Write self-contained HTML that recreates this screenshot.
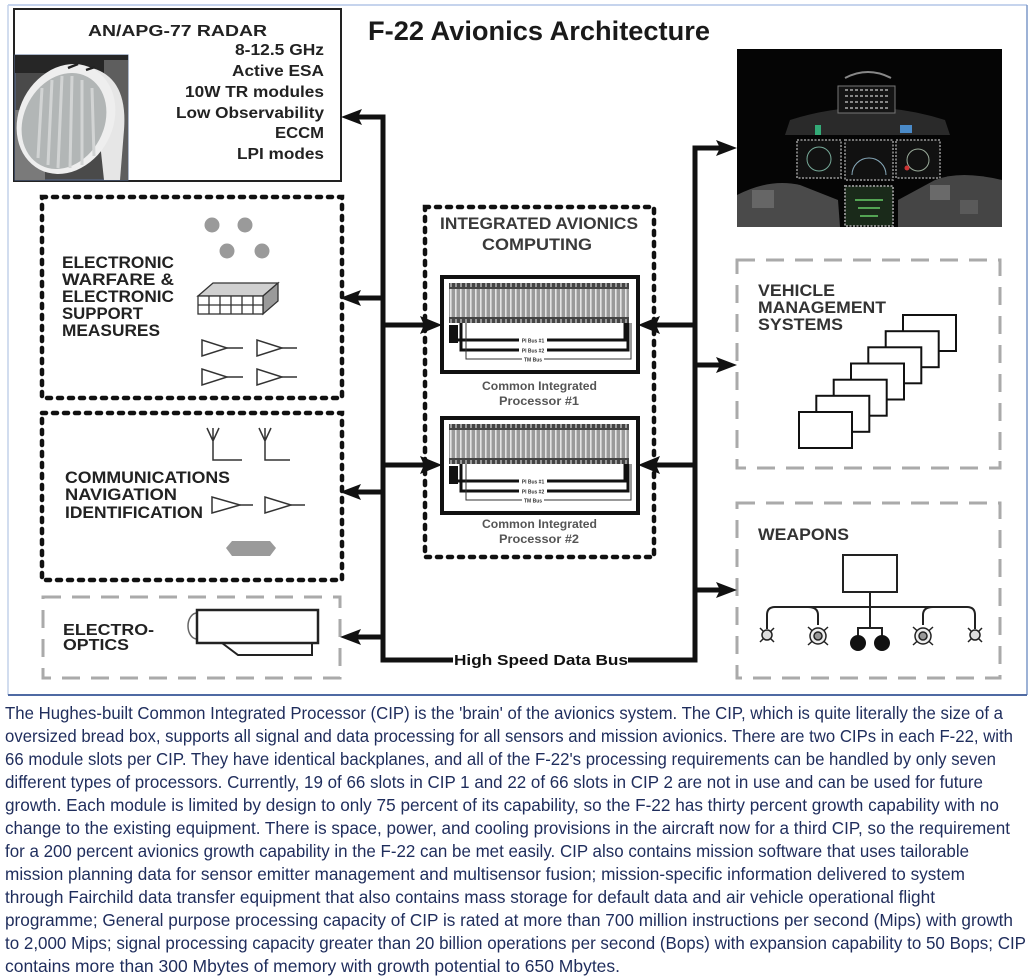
<!DOCTYPE html>
<html><head><meta charset="utf-8"><style>
html,body{margin:0;padding:0;background:#fff;}
svg{display:block;}
.lb{font-family:"Liberation Sans",Arial,sans-serif;font-weight:bold;}
.p{font-family:"Liberation Sans",Arial,sans-serif;font-size:17.5px;fill:#1f2d5c;}
</style></head><body>
<svg width="1033" height="977" viewBox="0 0 1033 977" xmlns="http://www.w3.org/2000/svg">
<defs>
<pattern id="slots" x="449" y="0" width="5" height="10" patternUnits="userSpaceOnUse">
<rect width="5" height="10" fill="#9a9a9a"/><rect x="1" width="1.6" height="10" fill="#e4e4e4"/>
</pattern>
<pattern id="slotsTop" x="449" y="0" width="5" height="6" patternUnits="userSpaceOnUse">
<rect width="5" height="6" fill="#444"/><rect x="1" y="1" width="2" height="4" fill="#999"/>
</pattern>
<g id="cip">
<rect x="442" y="277" width="196" height="95" fill="#fff" stroke="#111" stroke-width="4"/>
<rect x="449" y="283" width="180" height="40" fill="url(#slots)"/>
<rect x="449" y="283" width="180" height="6" fill="url(#slotsTop)"/>
<rect x="449" y="317" width="180" height="6" fill="url(#slotsTop)"/>
<rect x="449" y="325" width="9" height="18" fill="#111"/>
<path d="M456,340 H625 V323" fill="none" stroke="#111" stroke-width="3"/>
<path d="M461,323 V350 H628 V323" fill="none" stroke="#111" stroke-width="3"/>
<path d="M466,323 V359 H631 V323" fill="none" stroke="#333" stroke-width="1"/>
<rect x="519" y="337" width="28" height="6" fill="#fff"/>
<rect x="519" y="347" width="28" height="6" fill="#fff"/>
<rect x="522" y="356" width="22" height="6" fill="#fff"/>
<text x="533" y="342.5" class="lb" font-size="5" text-anchor="middle" fill="#333">PI Bus #1</text>
<text x="533" y="352.5" class="lb" font-size="5" text-anchor="middle" fill="#333">PI Bus #2</text>
<text x="533" y="361.5" class="lb" font-size="5" text-anchor="middle" fill="#333">TM Bus</text>
</g>
</defs>

<!-- outer frame -->
<line x1="8" y1="5" x2="1027" y2="5" stroke="#b4c6e7" stroke-width="1.5"/>
<line x1="8" y1="5" x2="8" y2="695" stroke="#c4d2ea" stroke-width="1.5"/>
<line x1="1027" y1="5" x2="1027" y2="695" stroke="#7d98c8" stroke-width="1.5"/>
<line x1="8" y1="695" x2="1027" y2="695" stroke="#4f6aa3" stroke-width="2"/>

<!-- radar box -->
<rect x="14" y="9" width="327" height="172" fill="#fff" stroke="#222" stroke-width="2"/>
<g>
<rect x="15" y="55" width="113" height="125" fill="#4a4a4a" stroke="#5a6f95" stroke-width="1"/>
<rect x="15" y="55" width="113" height="18" fill="#262626"/>
<rect x="15" y="110" width="30" height="70" fill="#7a7a7a"/>
<rect x="104" y="60" width="24" height="120" fill="#5e5e5e"/>
<path d="M92,68 Q128,78 124,130 L120,180 L104,180 Z" fill="#e6e6e6"/>
<ellipse cx="66" cy="119" rx="47" ry="57" transform="rotate(28 66 119)" fill="#eeeeee"/>
<ellipse cx="64" cy="121" rx="40" ry="50" transform="rotate(28 64 121)" fill="#b2b6b6"/>
<path d="M42,88 L38,158 M52,80 L48,165 M62,76 L58,168 M72,76 L70,168 M82,80 L82,165 M92,88 L94,156" stroke="#d2d4d4" stroke-width="3"/>
<path d="M68,68 L78,64 M86,70 L95,67" stroke="#222" stroke-width="2.5"/>
</g>
<text x="88" y="36" class="lb" font-size="16" textLength="179" lengthAdjust="spacingAndGlyphs" fill="#222">AN/APG-77 RADAR</text>
<g class="lb" font-size="16" fill="#222" text-anchor="end">
<text x="324" y="55" textLength="89" lengthAdjust="spacingAndGlyphs">8-12.5 GHz</text>
<text x="324" y="76" textLength="92" lengthAdjust="spacingAndGlyphs">Active ESA</text>
<text x="324" y="97" textLength="139" lengthAdjust="spacingAndGlyphs">10W TR modules</text>
<text x="324" y="118" textLength="148" lengthAdjust="spacingAndGlyphs">Low Observability</text>
<text x="324" y="138" textLength="49" lengthAdjust="spacingAndGlyphs">ECCM</text>
<text x="324" y="159" textLength="87" lengthAdjust="spacingAndGlyphs">LPI modes</text>
</g>

<!-- title -->
<text x="368" y="40" class="lb" font-size="27" textLength="342" lengthAdjust="spacingAndGlyphs" fill="#1a1a1a">F-22 Avionics Architecture</text>

<!-- cockpit photo -->
<g>
<rect x="737" y="49" width="265" height="178" fill="#050505"/>
<path d="M845,78 Q868,66 891,78" fill="none" stroke="#888" stroke-width="2"/>
<path d="M790,120 Q868,95 945,120 L950,135 L785,135 Z" fill="#2a2a2a"/>
<rect x="838" y="86" width="57" height="27" fill="#151515" stroke="#777" stroke-width="1"/>
<path d="M845,90 H890 M845,96 H890 M845,102 H890 M845,108 H890" stroke="#ccc" stroke-width="1.3" stroke-dasharray="3 2"/>
<rect x="797" y="140" width="44" height="38" fill="#111" stroke="#777" stroke-width="2" stroke-dasharray="2 1.5"/>
<circle cx="819" cy="159" r="12" fill="none" stroke="#7a9" stroke-width="1"/>
<rect x="845" y="140" width="48" height="40" fill="#111" stroke="#777" stroke-width="2" stroke-dasharray="2 1.5"/>
<path d="M852,175 A17,17 0 0 1 886,175" fill="none" stroke="#8ab" stroke-width="1"/>
<rect x="896" y="140" width="44" height="38" fill="#111" stroke="#777" stroke-width="2" stroke-dasharray="2 1.5"/>
<circle cx="918" cy="160" r="11" fill="none" stroke="#9a9" stroke-width="1"/>
<circle cx="907" cy="168" r="2.5" fill="#c33"/>
<rect x="900" y="125" width="12" height="8" fill="#4a8ac8"/>
<rect x="815" y="125" width="6" height="10" fill="#3a7"/>
<rect x="845" y="186" width="48" height="40" fill="#1a2a1a" stroke="#888" stroke-width="2" stroke-dasharray="2 1.5"/>
<path d="M855,200 H883 M858,208 H880 M860,216 H878" stroke="#6c6" stroke-width="1.5"/>
<path d="M737,227 L737,195 Q770,178 800,185 L838,200 L840,227 Z" fill="#4a4a4a"/>
<rect x="752" y="190" width="22" height="18" fill="#666"/>
<path d="M1002,227 L1002,180 Q960,170 935,180 L898,200 L898,227 Z" fill="#454545"/>
<rect x="930" y="185" width="20" height="15" fill="#6a6a6a"/>
<rect x="960" y="200" width="18" height="14" fill="#5a5a5a"/>
</g>

<!-- EW box -->
<rect x="42" y="197" width="300" height="201" fill="none" stroke="#111" stroke-width="4.5" stroke-dasharray="4 7" stroke-linecap="round"/>
<g class="lb" font-size="17" fill="#222">
<text x="62" y="268" textLength="112" lengthAdjust="spacingAndGlyphs">ELECTRONIC</text>
<text x="62" y="285" textLength="112" lengthAdjust="spacingAndGlyphs">WARFARE &amp;</text>
<text x="62" y="302" textLength="112" lengthAdjust="spacingAndGlyphs">ELECTRONIC</text>
<text x="62" y="319" textLength="81" lengthAdjust="spacingAndGlyphs">SUPPORT</text>
<text x="62" y="336" textLength="98" lengthAdjust="spacingAndGlyphs">MEASURES</text>
</g>
<g fill="#9a9a9a">
<circle cx="212" cy="225" r="7.5"/><circle cx="245" cy="225" r="7.5"/>
<circle cx="227" cy="251" r="7.5"/><circle cx="262" cy="251" r="7.5"/>
</g>
<g stroke="#333" stroke-width="1.3">
<polygon points="198,296 213,283 278,283 263,296" fill="#d0d0d0"/>
<polygon points="263,296 278,283 278,301 263,314" fill="#9a9a9a"/>
<rect x="198" y="296" width="65" height="18" fill="#fff"/>
<path d="M198,305 H263 M209,296 V314 M220,296 V314 M231,296 V314 M242,296 V314 M253,296 V314" fill="none"/>
</g>
<g fill="#fff" stroke="#333" stroke-width="1.5">
<polygon points="202,340 202,356 227,348"/><line x1="227" y1="348" x2="243" y2="348"/>
<polygon points="257,340 257,356 282,348"/><line x1="282" y1="348" x2="297" y2="348"/>
<polygon points="202,369 202,385 227,377"/><line x1="227" y1="377" x2="243" y2="377"/>
<polygon points="257,369 257,385 282,377"/><line x1="282" y1="377" x2="297" y2="377"/>
</g>

<!-- CNI box -->
<rect x="42" y="413" width="300" height="167" fill="none" stroke="#111" stroke-width="4.5" stroke-dasharray="4 7" stroke-linecap="round"/>
<g class="lb" font-size="17" fill="#222">
<text x="65" y="483" textLength="165" lengthAdjust="spacingAndGlyphs">COMMUNICATIONS</text>
<text x="65" y="500" textLength="112" lengthAdjust="spacingAndGlyphs">NAVIGATION</text>
<text x="65" y="518" textLength="138" lengthAdjust="spacingAndGlyphs">IDENTIFICATION</text>
</g>
<g fill="none" stroke="#333" stroke-width="1.5">
<path d="M207,428 L213,441 L219,428 M213,428 V460 H242"/>
<path d="M259,428 L265,441 L271,428 M265,428 V460 H290"/>
<polygon points="212,497 212,513 240,505" fill="#fff"/><line x1="240" y1="505" x2="253" y2="505"/>
<polygon points="265,497 265,513 291,505" fill="#fff"/><line x1="291" y1="505" x2="305" y2="505"/>
</g>
<path d="M232,541 H270 L276,548 L270,556 H232 L226,548 Z" fill="#9a9a9a"/>

<!-- EO box -->
<rect x="43" y="597" width="297" height="81" fill="none" stroke="#aaa" stroke-width="3" stroke-dasharray="18 11"/>
<g class="lb" font-size="16" fill="#222">
<text x="63" y="635" textLength="91" lengthAdjust="spacingAndGlyphs">ELECTRO-</text>
<text x="63" y="650" textLength="66" lengthAdjust="spacingAndGlyphs">OPTICS</text>
</g>
<path d="M197,613 A9,13 0 0 0 197,639" fill="#fff" stroke="#666" stroke-width="1.5"/>
<path d="M222,643 L238,655 H312 V643" fill="#fff" stroke="#222" stroke-width="2"/>
<rect x="197" y="610" width="121" height="33" fill="#fff" stroke="#222" stroke-width="2.5"/>

<!-- CIP group -->
<rect x="425" y="207" width="229" height="350" fill="none" stroke="#111" stroke-width="4.5" stroke-dasharray="4 7" stroke-linecap="round"/>
<g class="lb" fill="#3a3a3a" font-size="17">
<text x="440" y="229" textLength="198" lengthAdjust="spacingAndGlyphs">INTEGRATED AVIONICS</text>
<text x="482" y="250" textLength="110" lengthAdjust="spacingAndGlyphs">COMPUTING</text>
</g>
<use href="#cip"/>
<use href="#cip" transform="translate(0,141)"/>
<g class="lb" fill="#555" font-size="12">
<text x="482" y="390" textLength="115" lengthAdjust="spacingAndGlyphs">Common Integrated</text>
<text x="499" y="405" textLength="80" lengthAdjust="spacingAndGlyphs">Processor  #1</text>
<text x="482" y="528" textLength="115" lengthAdjust="spacingAndGlyphs">Common Integrated</text>
<text x="499" y="543" textLength="80" lengthAdjust="spacingAndGlyphs">Processor  #2</text>
</g>

<!-- VMS -->
<rect x="737" y="260" width="263" height="208" fill="none" stroke="#aaa" stroke-width="3" stroke-dasharray="18 11"/>
<g class="lb" font-size="17" fill="#333">
<text x="758" y="296" textLength="77" lengthAdjust="spacingAndGlyphs">VEHICLE</text>
<text x="758" y="313" textLength="128" lengthAdjust="spacingAndGlyphs">MANAGEMENT</text>
<text x="758" y="330" textLength="85" lengthAdjust="spacingAndGlyphs">SYSTEMS</text>
</g>
<g fill="#fff" stroke="#111" stroke-width="2">
<rect x="903" y="315" width="53" height="36"/>
<rect x="885.7" y="331.2" width="53" height="36"/>
<rect x="868.3" y="347.3" width="53" height="36"/>
<rect x="851" y="363.5" width="53" height="36"/>
<rect x="833.7" y="379.7" width="53" height="36"/>
<rect x="816.3" y="395.8" width="53" height="36"/>
<rect x="799" y="412" width="53" height="36"/>
</g>

<!-- Weapons -->
<rect x="737" y="503" width="263" height="175" fill="none" stroke="#aaa" stroke-width="3" stroke-dasharray="18 11"/>
<text x="758" y="540" class="lb" font-size="17" fill="#333" textLength="91" lengthAdjust="spacingAndGlyphs">WEAPONS</text>
<g fill="none" stroke="#222" stroke-width="2">
<rect x="843" y="555" width="54" height="37" fill="#fff"/>
<path d="M870,592 V628"/>
<path d="M767,629 V615 Q767,607 775,607 H967 Q975,607 975,615 V629"/>
<path d="M808,607 Q818,607 818,615 V625"/>
<path d="M933,607 Q923,607 923,615 V625"/>
<path d="M858,636 V628 H882 V636"/>
</g>
<g stroke="#222" stroke-width="1.5">
<path d="M760,628 L774,642 M774,628 L760,642 M968,628 L982,642 M982,628 L968,642"/>
<circle cx="767" cy="635" r="5" fill="#ddd"/>
<circle cx="975" cy="635" r="5" fill="#ddd"/>
<path d="M808,627 L828,645 M828,627 L808,645 M913,627 L933,645 M933,627 L913,645"/>
<circle cx="818" cy="636" r="8" fill="#eee"/><circle cx="818" cy="636" r="4" fill="#999"/>
<circle cx="923" cy="636" r="8" fill="#eee"/><circle cx="923" cy="636" r="4" fill="#999"/>
</g>
<circle cx="858" cy="643" r="8" fill="#111"/>
<circle cx="882" cy="643" r="8" fill="#111"/>

<!-- connectors -->
<g fill="none" stroke="#111" stroke-width="5">
<path d="M355,117 H383 V660 H453"/>
<path d="M355,298 H383"/>
<path d="M355,492 H383"/>
<path d="M355,637 H383"/>
<path d="M383,325 H425"/>
<path d="M383,465 H425"/>
<path d="M628,660 H695 V148 H722"/>
<path d="M695,365 H722"/>
<path d="M695,590 H722"/>
<path d="M695,325 H655"/>
<path d="M695,465 H655"/>
</g>
<g fill="#111">
<polygon points="341,117 362,109 358,117 362,125"/>
<polygon points="340,298 361,290 357,298 361,306"/>
<polygon points="340,492 361,484 357,492 361,500"/>
<polygon points="340,637 361,629 357,637 361,645"/>
<polygon points="442,325 420,316 424,325 420,334"/>
<polygon points="442,465 420,456 424,465 420,474"/>
<polygon points="638,325 660,316 656,325 660,334"/>
<polygon points="638,465 660,456 656,465 660,474"/>
<polygon points="737,148 716,140 720,148 716,156"/>
<polygon points="737,365 716,357 720,365 716,373"/>
<polygon points="737,590 716,582 720,590 716,598"/>
</g>
<text x="454" y="665" class="lb" font-size="15" fill="#111" textLength="174" lengthAdjust="spacingAndGlyphs">High Speed Data Bus</text>

<!-- paragraph -->
<g class="p">
<text x="5" y="719" textLength="998" lengthAdjust="spacingAndGlyphs">The Hughes-built Common Integrated Processor (CIP) is the 'brain' of the avionics system. The CIP, which is quite literally the size of a</text>
<text x="5" y="742" textLength="1008" lengthAdjust="spacingAndGlyphs">oversized bread box, supports all signal and data processing for all sensors and mission avionics. There are two CIPs in each F-22, with</text>
<text x="5" y="765" textLength="991" lengthAdjust="spacingAndGlyphs">66 module slots per CIP. They have identical backplanes, and all of the F-22's processing requirements can be handled by only seven</text>
<text x="5" y="788" textLength="978" lengthAdjust="spacingAndGlyphs">different types of processors. Currently, 19 of 66 slots in CIP 1 and 22 of 66 slots in CIP 2 are not in use and can be used for future</text>
<text x="5" y="811" textLength="994" lengthAdjust="spacingAndGlyphs">growth. Each module is limited by design to only 75 percent of its capability, so the F-22 has thirty percent growth capability with no</text>
<text x="5" y="834" textLength="1005" lengthAdjust="spacingAndGlyphs">change to the existing equipment. There is space, power, and cooling provisions in the aircraft now for a third CIP, so the requirement</text>
<text x="5" y="857" textLength="964" lengthAdjust="spacingAndGlyphs">for a 200 percent avionics growth capability in the F-22 can be met easily. CIP also contains mission software that uses tailorable</text>
<text x="5" y="880" textLength="960" lengthAdjust="spacingAndGlyphs">mission planning data for sensor emitter management and multisensor fusion; mission-specific information delivered to system</text>
<text x="5" y="903" textLength="930" lengthAdjust="spacingAndGlyphs">through Fairchild data transfer equipment that also contains mass storage for default data and air vehicle operational flight</text>
<text x="5" y="926" textLength="1008" lengthAdjust="spacingAndGlyphs">programme; General purpose processing capacity of CIP is rated at more than 700 million instructions per second (Mips) with growth</text>
<text x="5" y="949" textLength="1021" lengthAdjust="spacingAndGlyphs">to 2,000 Mips; signal processing capacity greater than 20 billion operations per second (Bops) with expansion capability to 50 Bops; CIP</text>
<text x="5" y="972" textLength="615" lengthAdjust="spacingAndGlyphs">contains more than 300 Mbytes of memory with growth potential to 650 Mbytes.</text>
</g>
</svg>
</body></html>
